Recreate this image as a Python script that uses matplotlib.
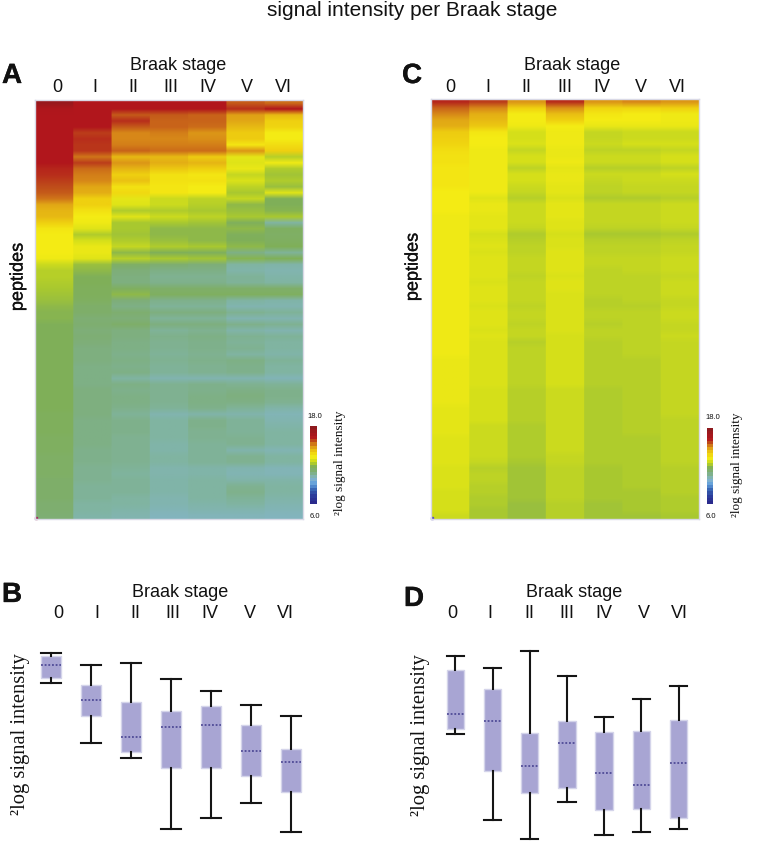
#!/usr/bin/env python3
"""Signal intensity per Braak stage: two peptide heatmaps and two box plots."""

import numpy as np
import matplotlib
matplotlib.use("Agg")
import matplotlib.pyplot as plt
import matplotlib.patheffects as pe
from matplotlib.colors import LinearSegmentedColormap, Normalize
from matplotlib.cm import ScalarMappable

stages = ["0", "I", "II", "III", "IV", "V", "VI"]

# heatmap A, one list per Braak stage, peptides top to bottom
a_0 = [17.6,16.6,16.5,16.5,16.5,16.5,16.5,16.5,16.5,16.5,
       16.5,16.3,16.2,16.0,15.8,15.7,15.4,14.8,14.6,14.5,
       14.0,13.5,13.4,13.4,13.4,13.4,13.3,12.7,12.4,12.4,
       12.3,12.2,12.1,12.0,11.9,11.8,11.8,11.7,11.7,11.7,
       11.7,11.7,11.7,11.7,11.7,11.7,11.7,11.7,11.7,11.7,
       11.7,11.7,11.6,11.6,11.6,11.6,11.5,11.5,11.5,11.4,
       11.4,11.4,11.4,11.3,11.3,11.3,11.3,11.2,11.2,11.1]
a_1 = [16.5,16.5,16.5,16.5,16.5,16.0,16.2,16.1,16.1,15.4,
       16.0,15.5,15.3,15.2,14.8,14.7,14.0,14.0,13.6,13.4,
       13.3,13.0,12.3,12.8,13.2,13.2,13.0,12.0,11.9,11.7,
       11.7,11.6,11.6,11.5,11.3,11.3,11.1,11.2,11.0,11.1,
       11.0,10.9,10.9,10.9,10.8,10.8,10.8,10.8,10.9,10.9,
       10.9,10.9,10.9,10.8,10.8,10.8,10.8,10.8,10.7,10.7,
       10.7,10.6,10.6,10.6,10.5,10.5,10.5,10.4,10.4,10.3]
a_2 = [16.5,16.5,15.7,16.2,15.7,15.2,15.2,15.3,15.6,14.5,
       15.0,14.6,14.0,14.3,13.6,13.8,13.1,13.0,12.3,13.0,
       12.2,12.2,12.1,12.3,12.6,11.9,12.4,11.4,11.0,10.9,
       10.9,11.5,11.9,11.0,10.8,11.2,11.0,11.3,10.9,10.9,
       10.8,10.8,10.7,10.8,10.7,10.8,10.4,10.8,10.7,10.8,
       10.8,10.7,10.5,10.7,10.7,10.7,10.6,10.6,10.6,10.6,
       10.6,10.5,10.45,10.5,10.5,10.5,10.4,10.4,10.3,10.2]
a_3 = [16.5,16.5,15.7,15.6,15.6,15.3,15.2,15.3,15.5,14.5,
       14.7,14.2,13.6,13.6,13.5,13.5,12.7,12.7,12.3,12.7,
       12.2,11.9,11.9,12.0,12.3,11.7,12.2,11.2,10.8,10.6,
       10.7,11.3,11.5,10.7,10.5,10.9,10.5,10.9,10.5,10.7,
       10.6,10.6,10.5,10.6,10.5,10.5,10.2,10.6,10.6,10.6,
       10.6,10.5,10.2,10.4,10.4,10.4,10.4,10.3,10.3,10.4,
       10.4,10.25,10.25,10.3,10.3,10.3,10.2,10.2,10.1,10.0]
a_4 = [16.5,16.5,15.6,15.6,15.5,15.0,15.1,15.3,15.5,14.1,
       14.6,14.0,13.5,13.6,13.4,13.4,12.5,12.4,12.2,12.5,
       12.1,11.9,11.9,11.9,12.2,11.6,12.1,11.0,10.8,10.6,
       10.7,11.3,11.5,10.7,10.5,10.9,10.5,10.9,10.6,10.8,
       10.7,10.7,10.6,10.7,10.6,10.6,10.2,10.7,10.7,10.8,
       10.8,10.7,10.3,10.7,10.7,10.6,10.6,10.5,10.5,10.5,
       10.5,10.3,10.3,10.4,10.4,10.4,10.4,10.3,10.2,10.05]
a_5 = [15.7,16.2,14.9,14.8,14.5,14.1,14.1,13.5,15.0,13.1,
       13.0,13.2,12.6,12.9,12.5,12.2,12.6,11.9,12.0,12.2,
       11.6,11.9,11.6,11.7,11.9,10.8,11.8,10.4,10.3,10.5,
       10.5,11.3,11.5,10.4,10.2,10.6,10.2,10.7,10.3,10.6,
       10.5,10.6,10.4,10.8,10.7,10.7,10.2,10.6,10.8,10.9,
       10.8,10.5,10.25,10.5,10.5,10.5,10.6,10.6,10.25,10.6,
       10.6,10.2,10.15,10.3,10.6,10.7,10.5,10.4,10.2,10.05]
a_6 = [15.5,16.5,14.5,14.0,13.9,13.4,13.4,13.7,14.0,12.4,
       13.3,12.3,12.1,12.3,12.0,13.0,11.7,11.7,11.8,12.2,
       10.4,11.5,11.4,11.5,11.7,10.5,11.7,10.3,10.2,10.3,
       10.4,11.3,11.5,10.3,10.2,10.5,10.2,10.6,10.2,10.5,
       10.4,10.4,10.3,10.5,10.4,10.4,10.1,10.5,10.7,10.7,
       10.6,10.3,10.1,10.2,10.3,10.4,10.4,10.4,10.15,10.4,
       10.4,10.1,10.1,10.3,10.4,10.4,10.3,10.2,10.1,10.0]

# heatmap C
c_0 = [16.3,15.6,15.2,14.8,14.7,14.1,14.0,13.9,13.7,13.6,
       13.6,13.5,13.5,13.5,13.5,13.4,13.4,13.4,13.4,13.3,
       13.3,13.3,13.3,13.3,13.3,13.3,13.3,13.3,13.3,13.3,
       13.3,13.3,13.3,13.3,13.3,13.3,13.3,13.3,13.3,13.3,
       13.3,13.3,13.3,13.2,13.2,13.2,13.2,13.2,13.2,13.2,
       13.2,13.1,13.1,13.1,13.1,13.1,13.0,13.0,13.0,13.0,
       13.0,12.9,12.9,12.9,12.9,12.8,12.8,12.8,12.8,12.7]
c_1 = [16.0,15.2,14.7,14.5,14.2,13.5,13.4,13.4,13.3,13.3,
       13.3,13.3,13.3,13.3,13.3,13.3,13.0,13.2,13.2,13.1,
       13.1,13.1,12.8,12.9,13.0,12.9,13.0,13.0,13.0,13.0,
       12.9,13.0,13.0,13.0,12.9,13.0,13.0,13.0,12.9,13.0,
       12.9,12.9,12.9,12.9,12.9,12.9,12.9,12.9,12.8,12.8,
       12.8,12.8,12.8,12.8,12.7,12.7,12.7,12.7,12.7,12.7,
       12.6,12.4,12.5,12.5,12.4,12.4,12.3,12.3,12.2,12.2]
c_2 = [15.0,14.0,13.4,13.4,13.3,12.8,12.8,12.9,12.6,12.8,
       12.8,12.5,12.8,12.8,12.7,12.6,12.4,12.7,12.7,12.7,
       12.7,12.6,12.3,12.4,12.5,12.5,12.6,12.6,12.6,12.5,
       12.6,12.6,12.6,12.6,12.5,12.6,12.6,12.5,12.6,12.6,
       12.4,12.5,12.5,12.5,12.5,12.5,12.5,12.5,12.4,12.4,
       12.4,12.4,12.4,12.4,12.3,12.3,12.3,12.3,12.3,12.3,
       12.2,12.1,12.1,12.1,12.1,12.1,12.1,12.0,12.0,12.0]
c_3 = [16.2,15.1,14.4,14.0,13.4,13.3,13.3,13.3,13.2,13.2,
       13.3,13.1,13.2,13.2,13.1,13.1,12.9,13.1,13.1,13.1,
       13.0,13.0,12.8,12.9,12.9,13.0,13.0,13.0,13.0,12.9,
       13.0,13.0,12.9,12.9,12.9,12.9,12.9,12.9,12.9,12.8,
       12.8,12.8,12.8,12.8,12.8,12.8,12.8,12.8,12.7,12.7,
       12.7,12.7,12.7,12.7,12.7,12.7,12.7,12.7,12.7,12.6,
       12.6,12.5,12.5,12.5,12.5,12.5,12.5,12.4,12.4,12.4]
c_4 = [15.0,13.9,13.5,13.4,13.2,12.6,12.6,12.7,12.5,12.7,
       12.7,12.4,12.7,12.6,12.5,12.5,12.3,12.6,12.6,12.6,
       12.6,12.5,12.2,12.4,12.5,12.5,12.6,12.6,12.5,12.5,
       12.5,12.5,12.5,12.4,12.4,12.5,12.5,12.4,12.5,12.5,
       12.4,12.4,12.4,12.4,12.4,12.4,12.4,12.4,12.3,12.3,
       12.3,12.3,12.3,12.3,12.3,12.3,12.3,12.3,12.3,12.3,
       12.3,12.2,12.2,12.2,12.2,12.2,12.2,12.1,12.1,12.1]
c_5 = [15.2,13.9,13.4,13.4,13.2,12.7,12.7,12.8,12.5,12.7,
       12.7,12.4,12.7,12.7,12.6,12.6,12.3,12.6,12.6,12.6,
       12.6,12.5,12.2,12.4,12.5,12.5,12.6,12.6,12.6,12.5,
       12.5,12.5,12.5,12.5,12.4,12.5,12.5,12.5,12.5,12.5,
       12.5,12.5,12.5,12.4,12.4,12.4,12.4,12.4,12.4,12.4,
       12.4,12.4,12.4,12.4,12.4,12.4,12.3,12.3,12.3,12.3,
       12.3,12.3,12.3,12.3,12.3,12.2,12.2,12.2,12.2,12.1]
c_6 = [15.0,14.0,13.3,13.3,13.2,12.7,12.7,12.8,12.6,12.8,
       12.8,12.5,12.8,12.7,12.6,12.6,12.4,12.7,12.7,12.7,
       12.7,12.6,12.3,12.5,12.6,12.6,12.7,12.7,12.7,12.6,
       12.7,12.7,12.7,12.6,12.6,12.7,12.7,12.6,12.6,12.7,
       12.6,12.6,12.6,12.6,12.6,12.6,12.6,12.6,12.6,12.6,
       12.6,12.6,12.6,12.5,12.5,12.5,12.5,12.5,12.5,12.5,
       12.5,12.4,12.4,12.4,12.4,12.4,12.3,12.3,12.3,12.2]

# box plots: whisker top, box top, median, box bottom, whisker bottom
b_top = [15.00, 14.61, 14.68, 14.13, 13.72, 13.24, 12.88]
b_q3 = [14.90, 13.91, 13.34, 13.07, 13.21, 12.59, 11.78]
b_med = [14.60, 13.43, 12.17, 12.51, 12.59, 11.72, 11.35]
b_q1 = [14.15, 12.88, 11.69, 11.13, 11.15, 10.88, 10.34]
b_low = [13.99, 11.98, 11.49, 9.10, 9.47, 9.98, 9.00]

d_top = [14.83, 14.45, 15.00, 14.19, 12.87, 13.45, 13.87]
d_q3 = [14.38, 13.78, 12.36, 12.77, 12.41, 12.43, 12.80]
d_med = [12.99, 12.76, 11.34, 12.06, 11.10, 10.73, 11.41]
d_q1 = [12.49, 11.15, 10.47, 10.61, 9.91, 9.97, 9.68]
d_low = [12.35, 9.60, 9.00, 10.17, 9.12, 9.22, 9.31]

W, H = 758, 853
VMIN, VMAX = 6.0, 18.0
SANS = "Liberation Sans"
SERIF = "Liberation Serif"
BORDER = "#d9d9e6"
THICK = [pe.withStroke(linewidth=0.25, foreground="#111111")]

anchors = [(6.0, "#2a2a8c"), (7.0, "#2c3a9a"), (8.0, "#3560b0"), (9.0, "#62a0dc"),
           (9.8, "#84b4cc"), (10.4, "#80b4a0"), (11.0, "#7eae78"), (11.7, "#80b058"),
           (12.2, "#a8c830"), (12.8, "#d4df1a"), (13.4, "#f5ec14"), (14.0, "#efd010"),
           (14.6, "#e6b614"), (15.2, "#d88a18"), (15.8, "#c0501a"), (16.5, "#b2161c"),
           (18.0, "#8e1a1e")]
cmap = LinearSegmentedColormap.from_list(
    "signal", [((v - VMIN) / (VMAX - VMIN), c) for v, c in anchors])


def px_axes(fig, x0, y0, x1, y1):
    """Axes from pixel corners, y counted from the top of the picture."""
    return fig.add_axes([x0 / W, 1 - y1 / H, (x1 - x0) / W, (y1 - y0) / H])


def px_text(fig, x, y, s, **kw):
    kw.setdefault("ha", "center")
    kw.setdefault("va", "center")
    kw.setdefault("family", SANS)
    kw.setdefault("color", "#111111")
    fig.text(x / W, 1 - y / H, s, **kw)


def stage_header(fig, letter, letter_x, letter_y, title_x, title_y, stage_x, stage_y):
    px_text(fig, letter_x, letter_y, letter, fontsize=20, fontweight="bold", path_effects=THICK)
    px_text(fig, title_x, title_y, "Braak stage", fontsize=13)
    for x, s in zip(stage_x, stages):
        px_text(fig, x, stage_y, s, fontsize=13)


def draw_heatmap(fig, columns, rect, corner):
    ax = px_axes(fig, *rect)
    matrix = np.array(columns).T
    # repeat sideways so the smoothing only softens the peptide rows
    ax.imshow(np.repeat(matrix, 40, axis=1), cmap=cmap, vmin=VMIN, vmax=VMAX,
              aspect="auto", interpolation="bilinear")
    ax.plot([0.002], [0.003], "s", color=corner, ms=1.5, transform=ax.transAxes, clip_on=False)
    ax.set_xticks([])
    ax.set_yticks([])
    for spine in ax.spines.values():
        spine.set_color(BORDER)
        spine.set_linewidth(1.0)
    return ax


def draw_colorbar(fig, rect):
    cax = px_axes(fig, *rect)
    sm = ScalarMappable(norm=Normalize(VMIN, VMAX), cmap=cmap.resampled(24))
    cb = fig.colorbar(sm, cax=cax)
    cb.set_ticks([])
    cb.outline.set_visible(False)


def draw_boxes(fig, rect, ylim, top, q3, med, q1, low, width):
    ax = px_axes(fig, *rect)
    stats = []
    for i in range(len(stages)):
        stats.append({"whishi": top[i], "q3": q3[i], "med": med[i], "q1": q1[i],
                      "whislo": low[i], "fliers": []})
    ax.bxp(stats, positions=range(len(stages)), widths=width, patch_artist=True,
           showfliers=False,
           boxprops=dict(facecolor="#a8a5d3", edgecolor="#d4d4ea", linewidth=1.0),
           medianprops=dict(color="#3f3a8c", linestyle=(0, (1.2, 1.2)), linewidth=1.1),
           whiskerprops=dict(color="#151515", linewidth=1.5),
           capprops=dict(color="#151515", linewidth=1.5), capwidths=width)
    ax.set_xlim(-0.5, len(stages) - 0.5)
    ax.set_ylim(*ylim)
    ax.axis("off")
    return ax


def main():
    fig = plt.figure(figsize=(W / 100, H / 100), dpi=100)

    px_text(fig, 412, 10, "signal intensity per Braak stage", fontsize=15)

    # A
    stage_header(fig, "A", 12, 77, 178, 65, [57, 95, 133, 171, 208, 247, 283], 87)
    draw_heatmap(fig, [a_0, a_1, a_2, a_3, a_4, a_5, a_6], (35, 101, 303, 520), "#a03060")
    px_text(fig, 18, 278, "peptides", fontsize=13, rotation=90, path_effects=THICK)
    draw_colorbar(fig, (310, 427, 317, 505))
    px_text(fig, 315, 417, "18.0", fontsize=5.5)
    px_text(fig, 315, 517, "6.0", fontsize=5.5)
    px_text(fig, 340, 463, "²log signal intensity", family=SERIF, fontsize=9.5, rotation=90)

    # C
    stage_header(fig, "C", 412, 77, 572, 65, [450, 488, 526, 565, 602, 641, 677], 87)
    draw_heatmap(fig, [c_0, c_1, c_2, c_3, c_4, c_5, c_6], (431, 100, 699, 520), "#5a50c0")
    px_text(fig, 413, 268, "peptides", fontsize=13, rotation=90, path_effects=THICK)
    draw_colorbar(fig, (707, 429, 713, 505))
    px_text(fig, 713, 418, "18.0", fontsize=5.5)
    px_text(fig, 711, 517, "6.0", fontsize=5.5)
    px_text(fig, 737, 465, "²log signal intensity", family=SERIF, fontsize=9.5, rotation=90)

    # B, one stage every 40 px, 15 and 9 sit at y 654 and 832.7
    stage_header(fig, "B", 12, 596, 180, 593, [58, 97, 135, 173, 210, 250, 285], 614)
    draw_boxes(fig, (30.7, 640, 310.7, 845), (8.59, 15.47),
               b_top, b_q3, b_med, b_q1, b_low, 0.5)
    px_text(fig, 21, 734, "²log signal intensity", family=SERIF, fontsize=14.8, rotation=90)

    # D, one stage every 37.2 px, 15 and 9 sit at y 651.7 and 840
    stage_header(fig, "D", 414, 600, 574, 593, [452, 490, 529, 567, 604, 644, 679], 614)
    draw_boxes(fig, (436.7, 640, 697.1, 850), (8.68, 15.37),
               d_top, d_q3, d_med, d_q1, d_low, 0.465)
    px_text(fig, 421, 735, "²log signal intensity", family=SERIF, fontsize=14.8, rotation=90)

    fig.savefig("out.png", dpi=100, facecolor="white")


if __name__ == "__main__":
    main()
